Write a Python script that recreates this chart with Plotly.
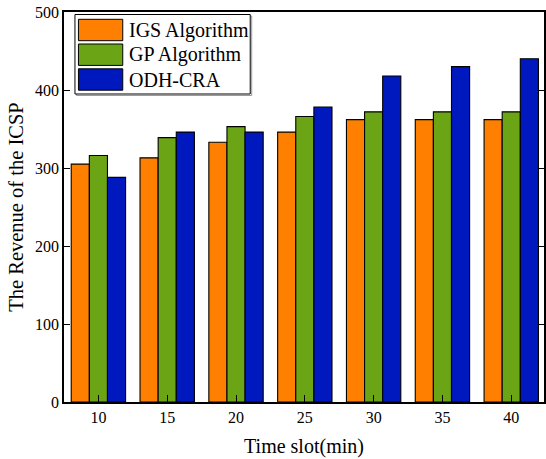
import plotly.graph_objects as go

# Revenue of the ICSP per time slot for the three allocation schemes
time_slots = [10, 15, 20, 25, 30, 35, 40]
series_names = ["IGS Algorithm", "GP Algorithm", "ODH-CRA"]
igs_revenue = [305, 313, 333, 346, 362, 362, 362]
gp_revenue = [316, 339, 353, 366, 372, 372, 372]
odh_revenue = [288, 346, 346, 378, 418, 430, 440]
y_ticks = [0, 100, 200, 300, 400, 500]

colors = ["#FF8000", "#6BA516", "#0019BF"]
font_family = "Liberation Serif, Times New Roman, serif"

W, H = 546, 459
ML, MR, MT, MB = 64, 0, 12, 57

fig = go.Figure()
for name, vals, col in zip(series_names, [igs_revenue, gp_revenue, odh_revenue], colors):
    fig.add_trace(go.Bar(
        x=time_slots, y=vals, name=name,
        marker=dict(color=col, line=dict(color="black", width=1.1)),
        showlegend=False,
    ))

# Plot-area geometry in pixels, used to place the hand-drawn legend
pw = W - ML - MR
ph = H - MT - MB


def px_x(x):
    return (x - ML) / pw


def px_y(y):
    return 1 - (y - MT) / ph


shapes = []
annotations = []
# legend frame with a faint drop shadow
shapes.append(dict(type="rect", xref="paper", yref="paper",
                   x0=px_x(76.5), x1=px_x(252.5), y0=px_y(95.5), y1=px_y(16),
                   line=dict(color="#9a9a9a", width=1), fillcolor="white"))
shapes.append(dict(type="rect", xref="paper", yref="paper",
                   x0=px_x(75), x1=px_x(251), y0=px_y(94), y1=px_y(14.5),
                   line=dict(color="black", width=1), fillcolor="white"))
row_centers = [30, 54.7, 79.5]
for name, col, yc in zip(series_names, colors, row_centers):
    shapes.append(dict(type="rect", xref="paper", yref="paper",
                       x0=px_x(78.5), x1=px_x(123), y0=px_y(yc + 10.7), y1=px_y(yc - 10.7),
                       line=dict(color="black", width=1), fillcolor=col))
    annotations.append(dict(xref="paper", yref="paper", x=px_x(127), y=px_y(yc),
                            xanchor="left", yanchor="middle", text=name, showarrow=False,
                            font=dict(family=font_family, size=20, color="black")))

fig.update_layout(
    width=W, height=H,
    margin=dict(l=ML, r=MR, t=MT, b=MB),
    paper_bgcolor="white", plot_bgcolor="white",
    barmode="group", bargap=0.21, bargroupgap=0,
    font=dict(family=font_family, color="black"),
    shapes=shapes, annotations=annotations,
    showlegend=False,
)
fig.update_xaxes(
    range=[7.5, 42.38], tickvals=time_slots, ticktext=[str(t) for t in time_slots],
    ticks="inside", ticklen=7, tickwidth=1.2, tickcolor="black",
    showline=True, linecolor="black", linewidth=1.5, mirror=True,
    showgrid=False, zeroline=False,
    tickfont=dict(size=16, family=font_family),
    title=dict(text="Time slot(min)", font=dict(size=20, family=font_family), standoff=14),
)
fig.update_yaxes(
    range=[0, 500], tickvals=y_ticks,
    ticks="inside", ticklen=6, tickwidth=1.2, tickcolor="black",
    showline=True, linecolor="black", linewidth=1.5, mirror="ticks",
    showgrid=False, zeroline=False,
    tickfont=dict(size=16, family=font_family),
    title=dict(text="The Revenue of the ICSP", font=dict(size=20.5, family=font_family), standoff=6),
)

fig.write_html("out.html")
